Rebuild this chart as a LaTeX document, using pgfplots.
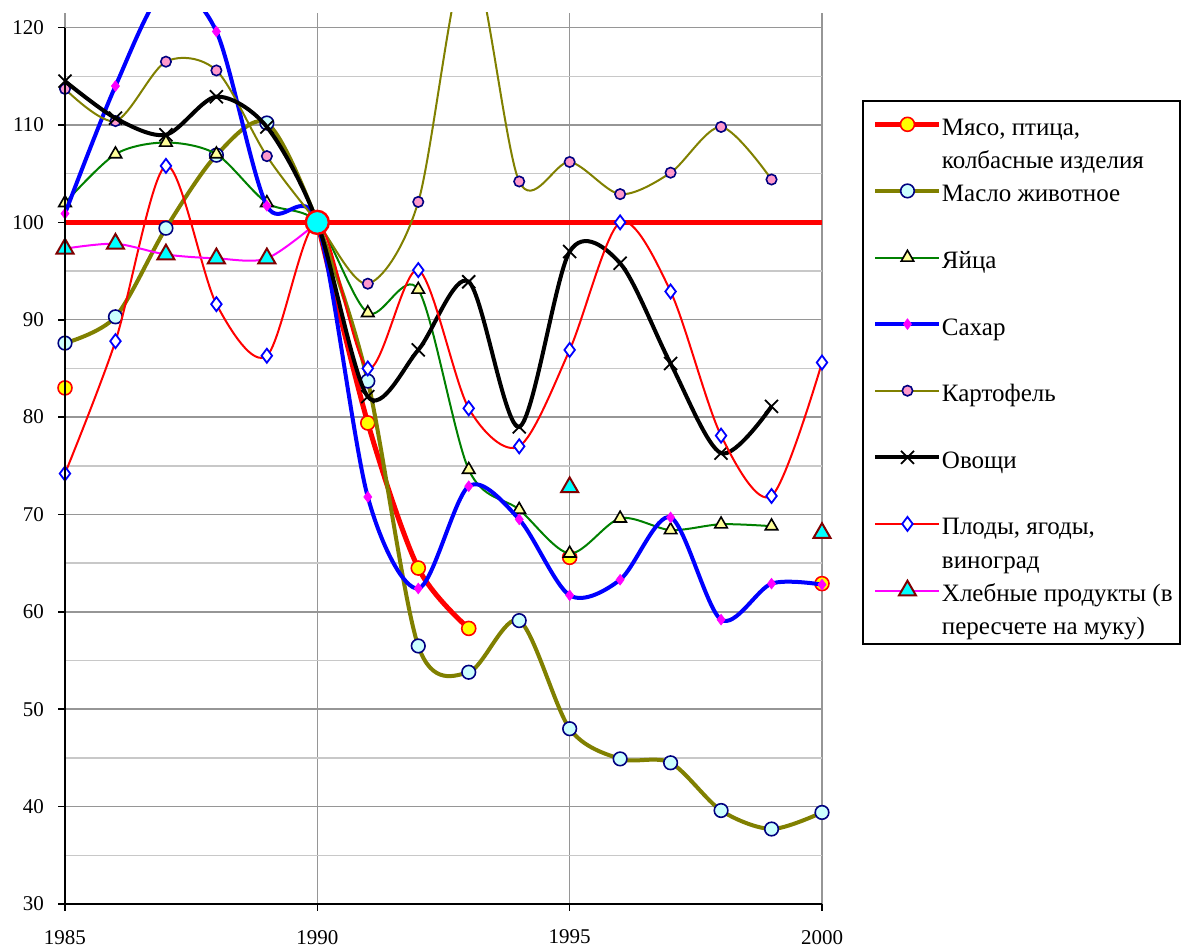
\documentclass[border=0pt]{standalone}
\usepackage{fontspec}
\setmainfont{Liberation Serif}
\usepackage{pgfplots}
\pgfplotsset{compat=1.18}
\usepackage{pgfplotstable}

\definecolor{olv}{RGB}{128,128,0}
\definecolor{grn}{RGB}{0,128,0}
\definecolor{navyc}{RGB}{0,0,128}
\definecolor{lcyan}{RGB}{204,255,255}
\definecolor{khaki}{RGB}{255,255,153}
\definecolor{pinkc}{RGB}{255,153,204}
\definecolor{dred}{RGB}{128,0,0}
\definecolor{cyanc}{RGB}{0,255,255}
\definecolor{magc}{RGB}{255,0,255}
\definecolor{yelc}{RGB}{255,255,0}
\definecolor{redc}{RGB}{255,0,0}
\definecolor{bluec}{RGB}{0,0,255}
\definecolor{gmaj}{RGB}{150,150,150}
\definecolor{gmin}{RGB}{200,200,200}

\pgfplotstableread{
year meat butter eggs sugar potato veg fruit bread
1985 83.0 87.6 102.0 100.9 113.7 114.5 74.2 97.3
1986 nan 90.3 107.0 114.0 110.4 110.7 87.8 97.8
1987 nan 99.4 108.2 124.0 116.5 109.0 105.8 96.7
1988 nan 106.9 107.0 119.6 115.6 112.9 91.6 96.3
1989 nan 110.2 102.0 101.7 106.8 109.8 86.3 96.3
1990 100 100 100 100 100 100 100 100
1991 79.4 83.7 90.7 71.8 93.7 82.1 85.0 nan
1992 64.5 56.5 93.1 62.4 102.1 86.9 95.1 nan
1993 58.3 53.8 74.6 72.9 128.0 93.9 80.9 nan
1994 nan 59.1 70.5 69.5 104.2 79.0 77.0 nan
1995 65.6 48.0 66.0 61.7 106.2 97.0 86.9 72.8
1996 nan 44.9 69.6 63.3 102.9 95.8 100.0 nan
1997 nan 44.5 68.4 69.7 105.1 85.5 92.9 nan
1998 nan 39.6 69.0 59.2 109.8 76.3 78.1 nan
1999 nan 37.7 68.8 62.9 104.4 81.1 71.9 nan
2000 62.9 39.4 nan 62.8 nan nan 85.6 68.1
}\data

\begin{document}
\begin{tikzpicture}
\begin{axis}[
  at={(32.5pt,22.5pt)}, anchor=south west,
  scale only axis, width=378.5pt, height=445.5pt,
  xmin=1985, xmax=2000, ymin=30, ymax=121.5,
  clip mode=individual,
  unbounded coords=jump,
  axis x line*=bottom, axis y line*=left,
  x axis line style={black, line width=1pt, -},
  y axis line style={draw=none},
  xtick={1985,1990,1995,2000},
  ytick={30,40,...,120},
  minor ytick={35,45,...,115},
  xmajorgrids, ymajorgrids, yminorgrids,
  major grid style={gmaj, line width=0.75pt},
  minor grid style={gmin, line width=0.75pt},
  tick align=outside,
  major tick length=3.5pt, minor tick length=0pt,
  tick style={black, line width=0.8pt},
  /pgf/number format/1000 sep={},
  /pgf/number format/assume math mode=true,
  ticklabel style={font=\fontsize{10.5pt}{12pt}\selectfont},
  xticklabel style={yshift=-6pt},
  yticklabel style={xshift=-3.5pt},
  legend style={at={(1.0528,0.902)}, anchor=north west, draw=black, line width=1pt,
    inner xsep=1.5pt, inner ysep=1pt, font=\fontsize{12.5pt}{17pt}\selectfont,
    cells={anchor=base west, inner sep=0pt, text height=14pt, text depth=2.65pt},
    row sep=-2.85pt, column sep=-2pt},
  legend image code/.code={\path (-3.5pt,5.5pt); \draw[mark repeat=2,mark phase=2,yshift=5.5pt,#1] plot coordinates {(0pt,0pt) (16pt,0pt) (32pt,0pt)};},
]
\addplot[redc, line width=2.5pt, forget plot] coordinates {(1985,100) (2000,100)};

\addplot[redc, line width=2.5pt, smooth, mark=*, mark size=3.5pt, mark options={fill=yelc, draw=redc, line width=0.8pt}] table[x=year,y=meat]{\data};
\addlegendentry{Мясо, птица,}
\addlegendimage{empty legend}
\addlegendentry{колбасные изделия}

\addplot[olv, line width=2pt, smooth, mark=*, mark size=3.4pt, mark options={fill=lcyan, draw=navyc, line width=0.8pt}] table[x=year,y=butter]{\data};
\addlegendentry{Масло животное}
\addlegendimage{empty legend}
\addlegendentry{}

\addplot[grn, line width=1pt, smooth, mark=triangle*, mark size=3.6pt, mark options={fill=khaki, draw=black, line width=0.8pt}] table[x=year,y=eggs]{\data};
\addlegendentry{Яйца}
\addlegendimage{empty legend}
\addlegendentry{}

\addplot[bluec, line width=2pt, smooth, mark=diamond*, mark size=2.7pt, mark options={fill=magc, draw=magc, line width=0.3pt}] table[x=year,y=sugar]{\data};
\addlegendentry{Сахар}
\addlegendimage{empty legend}
\addlegendentry{}

\addplot[olv, line width=1pt, smooth, mark=*, mark size=2.6pt, mark options={fill=pinkc, draw=navyc, line width=0.8pt}] table[x=year,y=potato]{\data};
\addlegendentry{Картофель}
\addlegendimage{empty legend}
\addlegendentry{}

\addplot[black, line width=2pt, smooth, mark=x, mark size=4.6pt, mark options={draw=black, line width=0.9pt}] table[x=year,y=veg]{\data};
\addlegendentry{Овощи}
\addlegendimage{empty legend}
\addlegendentry{}

\addplot[redc, line width=1pt, smooth, mark=diamond*, mark size=3.5pt, mark options={fill=white, draw=bluec, line width=0.9pt}] table[x=year,y=fruit]{\data};
\addlegendentry{Плоды, ягоды,}
\addlegendimage{empty legend}
\addlegendentry{виноград}

\addplot[magc, line width=1pt, smooth, mark=triangle*, mark size=4.9pt, mark options={fill=cyanc, draw=dred, line width=1pt}] table[x=year,y=bread]{\data};
\addlegendentry{Хлебные продукты (в}
\addlegendimage{empty legend}
\addlegendentry{пересчете на муку)}

\addplot[only marks, mark=*, mark size=5.75pt, mark options={fill=cyanc, draw=redc, line width=1.2pt}, forget plot] coordinates {(1990,100)};

\draw[black, line width=1pt] (axis cs:1985,30) -- (axis cs:1985,120);
\end{axis}
\path (0,0) rectangle (592pt,474.5pt);
\end{tikzpicture}
\end{document}
